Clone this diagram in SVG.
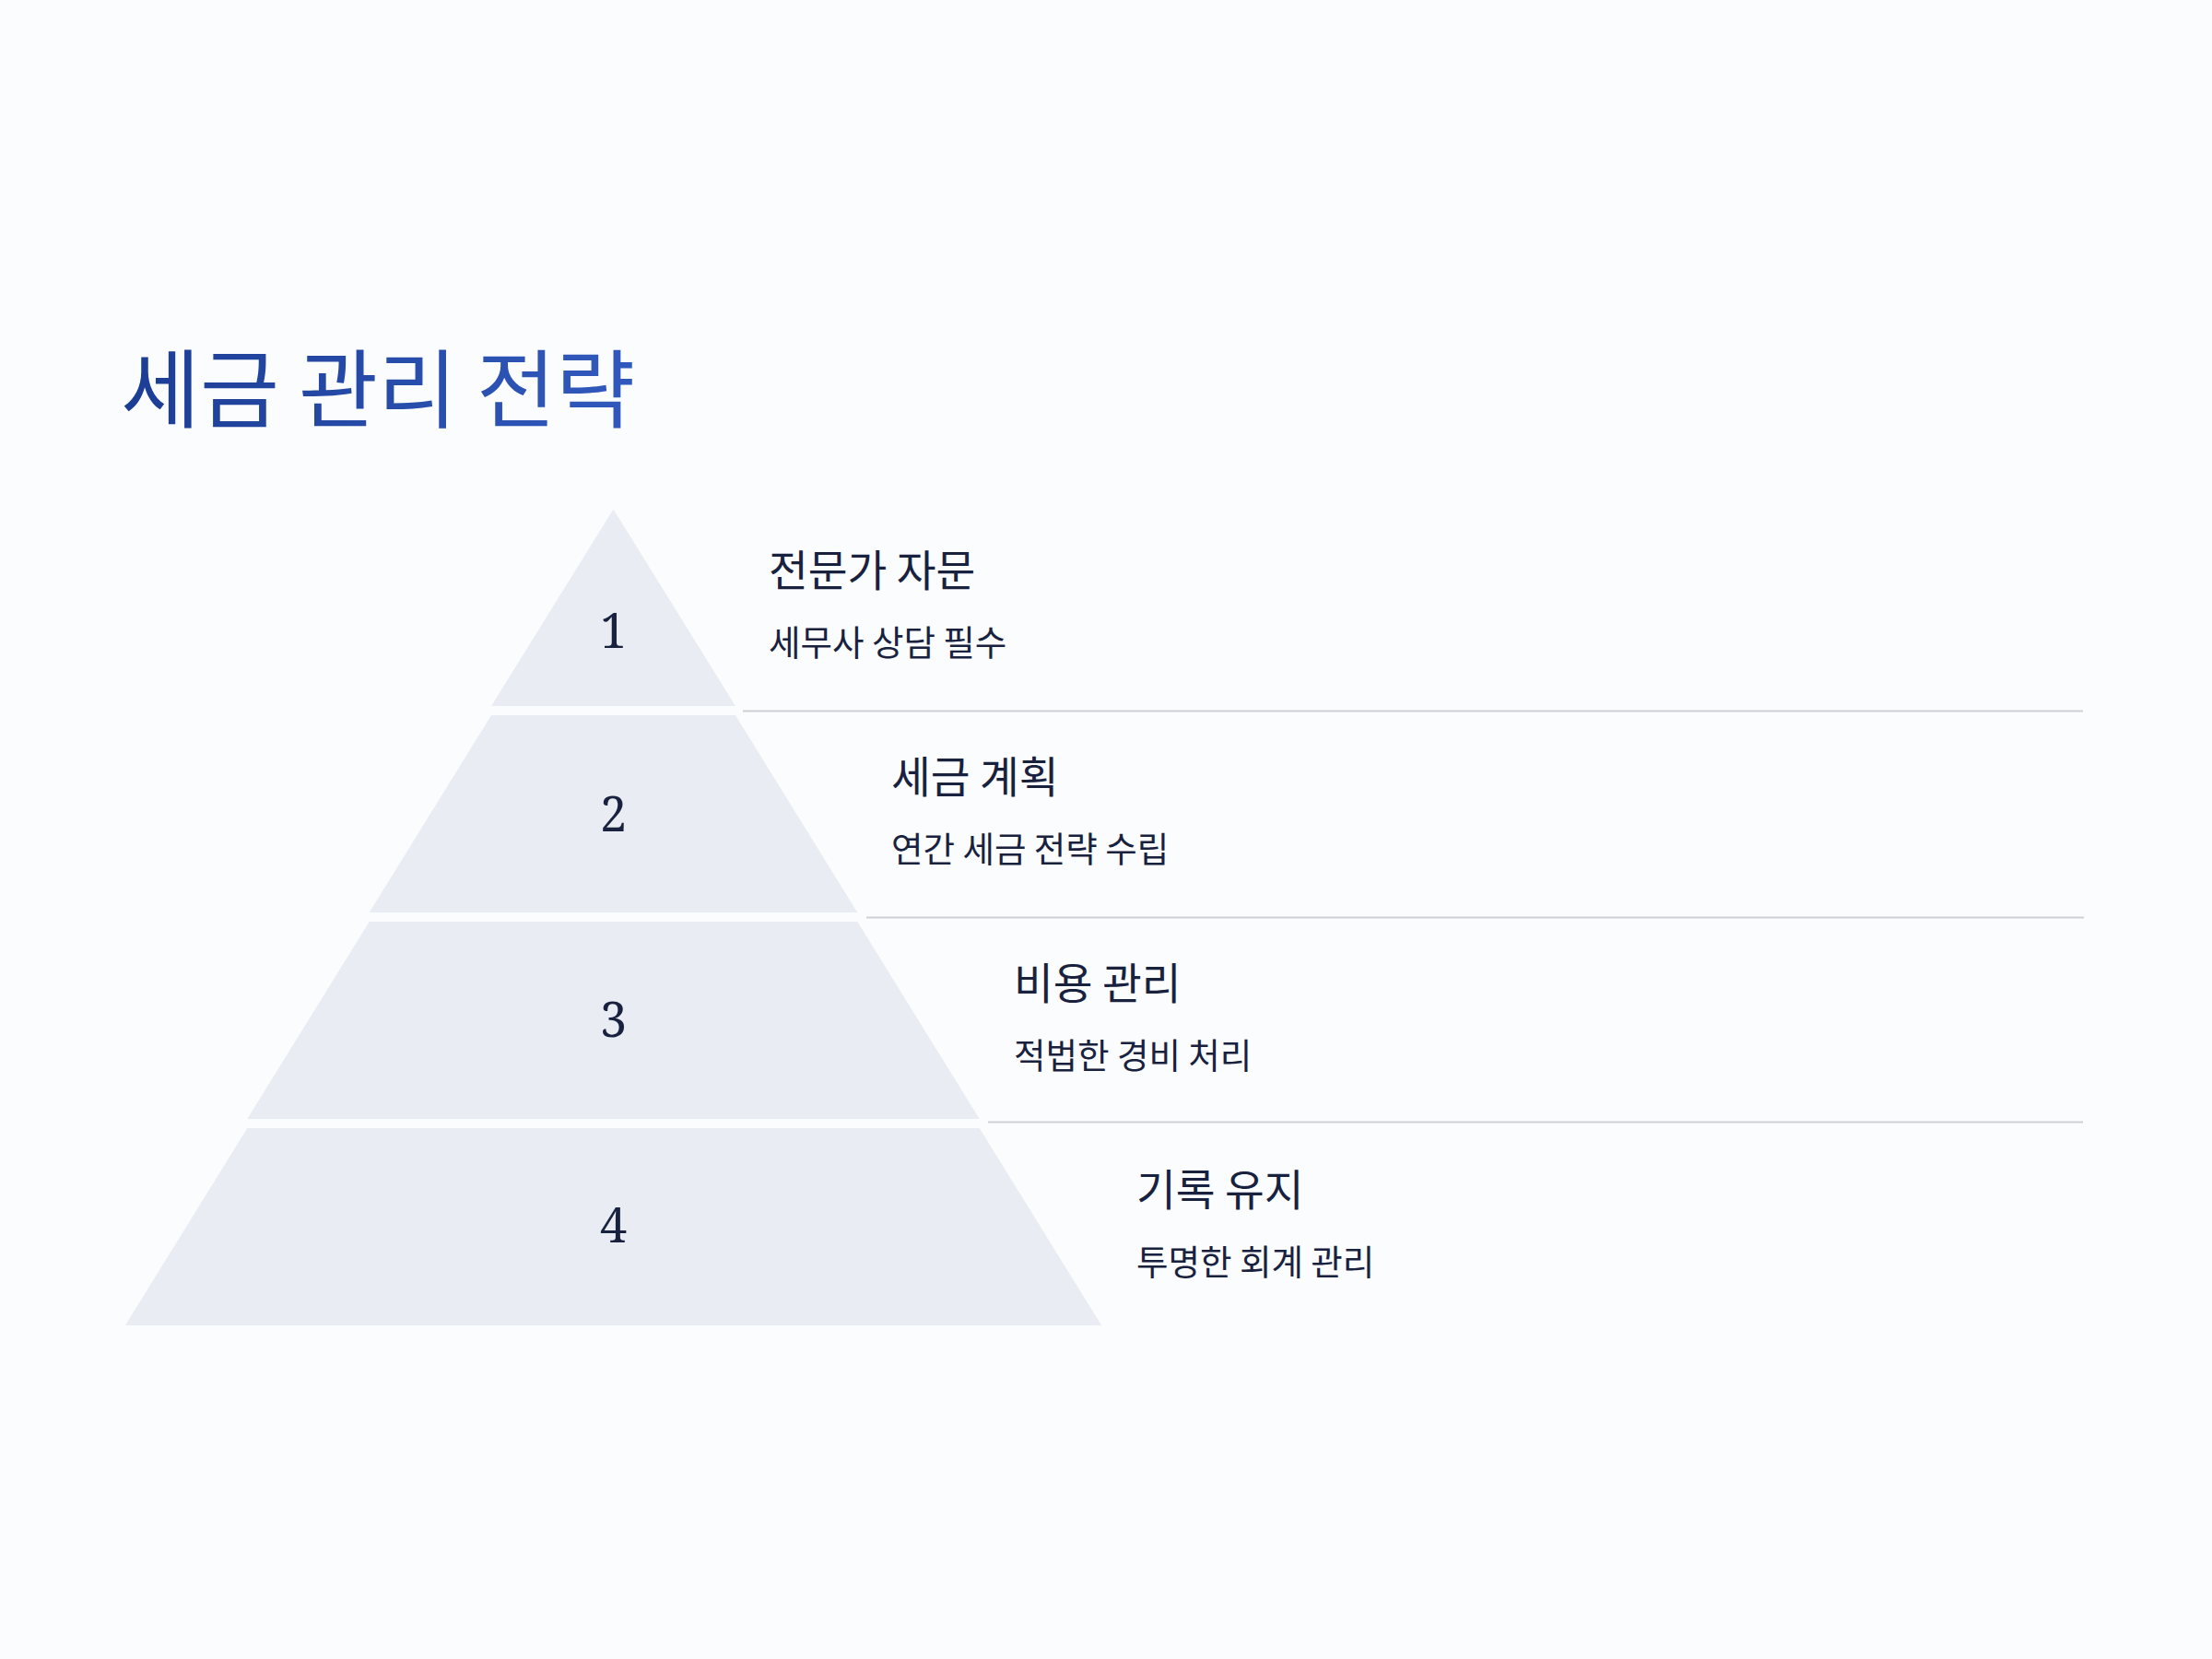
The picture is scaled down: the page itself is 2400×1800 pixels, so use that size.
<svg xmlns="http://www.w3.org/2000/svg" width="2400" height="1800" viewBox="0 0 2400 1800">
<defs>
<linearGradient id="tg" gradientUnits="userSpaceOnUse" x1="135" y1="0" x2="686" y2="0">
<stop offset="0" stop-color="#1c3d94"/>
<stop offset="1" stop-color="#3159bd"/>
</linearGradient>
<style>
.tier{fill:#e9ecf2}
.num{font-family:"Noto Serif","DejaVu Serif",serif;font-size:52px;fill:#18223f;text-anchor:middle}
.h{font-family:"Noto Sans CJK KR","Noto Sans",sans-serif;font-size:46.5px;fill:#18223f}
.s{font-family:"Noto Sans CJK KR","Noto Sans",sans-serif;font-size:37.5px;fill:#18223f}
.div{stroke:#cdd0d6;stroke-width:2}
.t{font-family:"Noto Sans CJK KR","Noto Sans",sans-serif;font-size:93.5px;fill:url(#tg)}
</style>
</defs>
<rect width="2400" height="1800" fill="#fbfcfd"/>
<text class="t" x="131" y="457">세금 관리 전략</text>
<g id="connectors">
<line class="div" x1="806" y1="771.5" x2="2260" y2="771.5"/>
<line class="div" x1="940" y1="995.5" x2="2261" y2="995.5"/>
<line class="div" x1="1072" y1="1217.5" x2="2260" y2="1217.5"/>
</g>
<g id="tier1">
<polygon class="tier" points="665.5,552.5 797.9,766 533.1,766"/>
<text class="num" x="665.5" y="703">1</text>
<text class="h" x="834" y="636">전문가 자문</text>
<text class="s" x="834" y="711">세무사 상담 필수</text>
</g>
<g id="tier2">
<polygon class="tier" points="533.1,776 797.9,776 930.3,990 400.7,990"/>
<text class="num" x="665.5" y="902">2</text>
<text class="h" x="967" y="860">세금 계획</text>
<text class="s" x="967" y="935">연간 세금 전략 수립</text>
</g>
<g id="tier3">
<polygon class="tier" points="400.7,1000 930.3,1000 1062.7,1214 268.3,1214"/>
<text class="num" x="665.5" y="1125">3</text>
<text class="h" x="1100" y="1084">비용 관리</text>
<text class="s" x="1100" y="1159">적법한 경비 처리</text>
</g>
<g id="tier4">
<polygon class="tier" points="268.3,1224 1062.7,1224 1195.1,1438 135.9,1438"/>
<text class="num" x="665.5" y="1348">4</text>
<text class="h" x="1233" y="1308">기록 유지</text>
<text class="s" x="1233" y="1383">투명한 회계 관리</text>
</g>
</svg>
